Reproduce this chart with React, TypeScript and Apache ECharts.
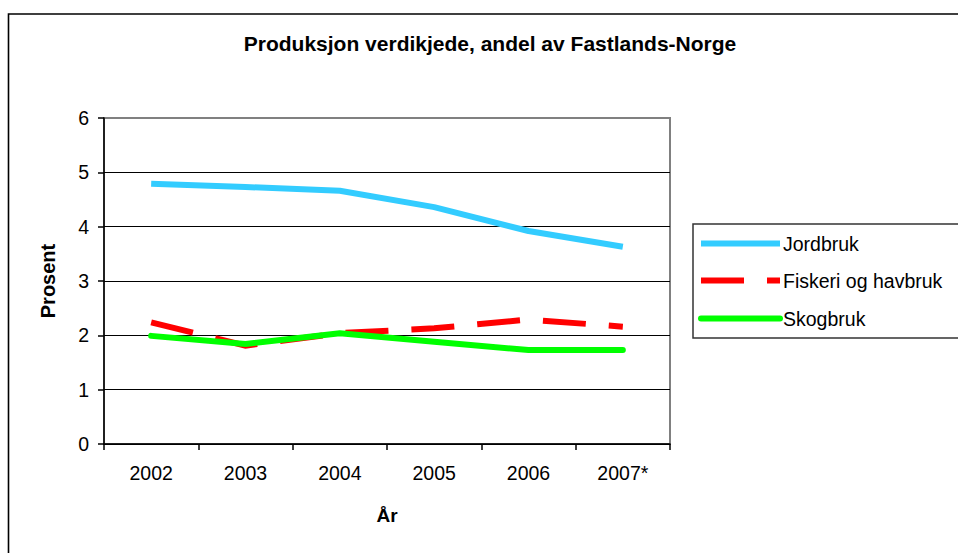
import React, { useEffect, useRef } from "react";
import * as echarts from "echarts";

const years = ["2002", "2003", "2004", "2005", "2006", "2007*"];
const jordbruk = [4.79, 4.73, 4.66, 4.36, 3.92, 3.63];
const fiskeri = [2.24, 1.81, 2.04, 2.13, 2.29, 2.16];
const skogbruk = [1.99, 1.84, 2.04, 1.88, 1.73, 1.73];
const seriesNames = ["Jordbruk", "Fiskeri og havbruk", "Skogbruk"];
const yTicks = [0, 1, 2, 3, 4, 5, 6];

const FONT = "'Liberation Sans', Arial, sans-serif";

export default function App() {
  const ref = useRef<HTMLDivElement>(null);
  useEffect(() => {
    if (!ref.current) return;
    const chart = echarts.init(ref.current, undefined, { renderer: "svg" });
    const legendCenters = [243, 280, 318];
    chart.setOption({
      animation: false,
      backgroundColor: "#ffffff",
      textStyle: { fontFamily: FONT },
      title: {
        text: "Produksjon verdikjede, andel av Fastlands-Norge",
        left: 490,
        top: 33,
        textAlign: "center",
        padding: 0,
        textStyle: { fontFamily: FONT, fontSize: 21, fontWeight: "bold", color: "#000" },
      },
      graphic: [
        {
          type: "rect",
          z: 0,
          shape: { x: 8.5, y: 14, width: 1000, height: 600 },
          style: { fill: "none", stroke: "#000", lineWidth: 1.6 },
        },
        {
          type: "rect",
          z: 0,
          shape: { x: 693, y: 224, width: 300, height: 114 },
          style: { fill: "#fff", stroke: "#333", lineWidth: 1.5 },
        },
      ],
      legend: seriesNames.map((n, i) => ({
        data: [n],
        orient: "vertical",
        left: 698,
        top: legendCenters[i] - 9.5,
        padding: 0,
        itemWidth: 79,
        itemHeight: 19,
        z: 5,
        itemStyle: { opacity: 0 },
        lineStyle: { width: 6 },
        textStyle: { fontFamily: FONT, fontSize: 19.5, color: "#000", lineHeight: 19, padding: [0, 0, 0, -2] },
      })),
      grid: {
        left: 104,
        top: 118,
        width: 566,
        height: 326,
        show: true,
        borderColor: "#808080",
        borderWidth: 2,
        backgroundColor: "transparent",
      },
      xAxis: {
        type: "category",
        data: years,
        boundaryGap: true,
        name: "År",
        nameLocation: "middle",
        nameGap: 62,
        nameTextStyle: { fontFamily: FONT, fontSize: 19, fontWeight: "bold", color: "#000" },
        axisLine: { lineStyle: { color: "#000", width: 1.5 } },
        axisTick: { show: true, alignWithLabel: false, length: 6, lineStyle: { color: "#000", width: 1.5 } },
        axisLabel: { fontFamily: FONT, fontSize: 19.5, color: "#000", margin: 19 },
        splitLine: { show: false },
      },
      yAxis: {
        type: "value",
        min: yTicks[0],
        max: yTicks[yTicks.length - 1],
        interval: 1,
        name: "Prosent",
        nameLocation: "middle",
        nameGap: 46,
        nameTextStyle: { fontFamily: FONT, fontSize: 20, fontWeight: "bold", color: "#000" },
        axisLine: { show: true, lineStyle: { color: "#000", width: 1.5 } },
        axisTick: { show: true, length: 6, lineStyle: { color: "#000", width: 1.5 } },
        axisLabel: { fontFamily: FONT, fontSize: 19.5, color: "#000", margin: 15 },
        splitLine: {
          show: true,
          lineStyle: {
            color: ["#000", "#000", "#000", "#000", "#000", "#000", "#808080"],
            width: 1.2,
          },
        },
      },
      series: [
        {
          name: seriesNames[0],
          type: "line",
          data: jordbruk,
          symbol: "none",
          lineStyle: { color: "#33CCFF", width: 6, cap: "butt", join: "round" },
          itemStyle: { color: "#33CCFF" },
        },
        {
          name: seriesNames[1],
          type: "line",
          data: fiskeri,
          symbol: "none",
          lineStyle: { color: "#FF0000", width: 6, type: [43, 23], cap: "butt", join: "miter" },
          itemStyle: { color: "#FF0000" },
        },
        {
          name: seriesNames[2],
          type: "line",
          data: skogbruk,
          symbol: "none",
          lineStyle: { color: "#00FF00", width: 6, cap: "round", join: "round" },
          itemStyle: { color: "#00FF00" },
        },
      ],
    });
    return () => chart.dispose();
  }, []);
  return (
    <div
      ref={ref}
      style={{ position: "absolute", left: 0, top: 0, width: 958, height: 553 }}
    />
  );
}
